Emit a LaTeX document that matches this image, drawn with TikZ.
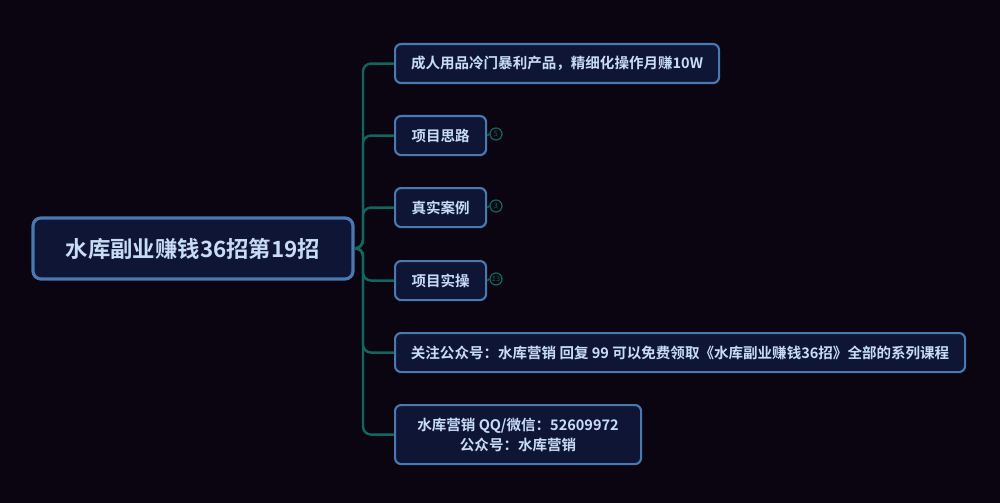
\documentclass[tikz,border=0pt]{standalone}
\usepackage{fontspec}
\newfontfamily\cjk{Noto Sans CJK SC}
\newfontfamily\cjkb{Noto Sans CJK SC Bold}
\definecolor{bg}{HTML}{0A0510}
\definecolor{nodefill}{HTML}{0E1535}
\definecolor{nodeborder}{HTML}{4A78B0}
\definecolor{txt}{HTML}{C8DDF5}
\definecolor{teal}{HTML}{13665F}
\begin{document}
\begin{tikzpicture}[x=0.75pt,y=-0.75pt,
  box/.style={draw=nodeborder,fill=nodefill,rounded corners=4.5pt,line width=1.6pt,text=txt,font=\cjkb\fontsize{10.9pt}{15pt}\selectfont,inner sep=0pt,anchor=north west},
  rootbox/.style={draw=nodeborder,fill=nodefill,rounded corners=6pt,line width=2.4pt,text=txt,font=\cjkb\fontsize{16.8pt}{19pt}\selectfont,inner sep=0pt},
  conn/.style={draw=teal,line width=1.8pt,rounded corners=6pt},
  fold/.style={circle,draw=teal,line width=0.9pt,fill=bg,inner sep=0pt,minimum size=9pt,text=teal,font=\cjk\fontsize{5.5pt}{5.5pt}\selectfont}]
\fill[bg] (0,0) rectangle (1000,503);
\useasboundingbox (0,0) rectangle (1000,503);
\node[rootbox,minimum width=240pt,minimum height=45.75pt] (root) at (193,248.5) {水库副业赚钱36招第19招};
\node[box,minimum width=243pt,minimum height=29.25pt] (c1) at (394,43) {成人用品冷门暴利产品，精细化操作月赚10W};
\node[box,minimum width=68.25pt,minimum height=29.25pt] (c2) at (394,115) {项目思路};
\node[box,minimum width=68.25pt,minimum height=29.25pt] (c3) at (394,187) {真实案例};
\node[box,minimum width=68.25pt,minimum height=29.25pt] (c4) at (394,260) {项目实操};
\node[box,minimum width=427.5pt,minimum height=29.25pt] (c5) at (394,332) {关注公众号：水库营销 回复 99 可以免费领取《水库副业赚钱36招》全部的系列课程};
\node[box,minimum width=184.5pt,minimum height=44.25pt,align=center] (c6) at (394,404) {水库营销 QQ/微信：52609972\\公众号：水库营销};
\coordinate (sp) at (363,248);
\foreach \c in {c1,c2,c3,c4,c5,c6}{
  \draw[conn] (root.east) -- (sp) |- (\c.west);
}
\node[fold] (f2) at (496,134) {5};
\node[fold] (f3) at (496,206) {3};
\node[fold] (f4) at (496,279) {13};
\draw[teal,line width=1.2pt] (c2.east) -- (f2.west);
\draw[teal,line width=1.2pt] (c3.east) -- (f3.west);
\draw[teal,line width=1.2pt] (c4.east) -- (f4.west);
\end{tikzpicture}
\end{document}
